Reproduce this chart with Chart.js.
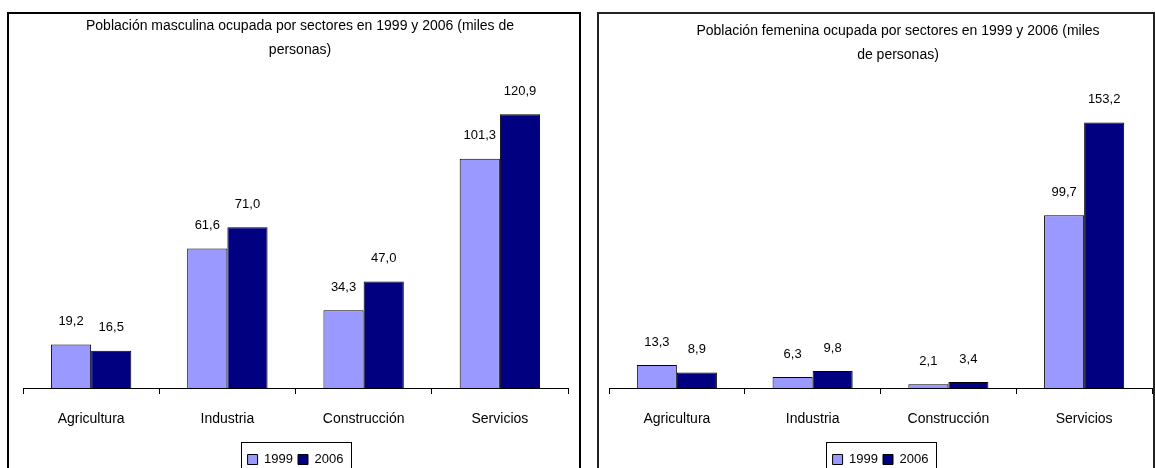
<!DOCTYPE html>
<html lang="es">
<head>
<meta charset="UTF-8">
<title>Población ocupada por sectores 1999 y 2006</title>
<script src="https://cdn.jsdelivr.net/npm/chart.js"></script>
<style>
  body { margin: 0; background: #fff; width: 1155px; height: 468px; overflow: hidden; position: relative; }
  .frame { position: absolute; top: 12px; height: 470px; border: 2px solid #000; box-sizing: border-box; }
  .holder { position: absolute; top: 14px; height: 470px; }
</style>
</head>
<body>
<div class="frame" style="left:7px; width:574px;"></div>
<div class="frame" style="left:597px; width:558px; border-color:#222;"></div>
<div class="holder" style="left:9px; width:568px;"><canvas id="hombres"></canvas></div>
<div class="holder" style="left:599px; width:588px;"><canvas id="mujeres"></canvas></div>

<script>
// datos (miles de personas)
const sectores = ['Agricultura', 'Industria', 'Construcción', 'Servicios'];
const anios = ['1999', '2006'];
const hombres1999 = [19.2, 61.6, 34.3, 101.3];
const hombres2006 = [16.5, 71.0, 47.0, 120.9];
const mujeres1999 = [13.3, 6.3, 2.1, 99.7];
const mujeres2006 = [8.9, 9.8, 3.4, 153.2];

const colores = ['#9999FF', '#000080'];

Chart.defaults.font.family = "'Liberation Sans', Arial, sans-serif";
Chart.defaults.font.size = 13;
Chart.defaults.color = '#000';

// etiquetas de valor encima de cada barra, con coma decimal
const etiquetas = {
  id: 'etiquetas',
  afterDatasetsDraw(chart) {
    const ctx = chart.ctx;
    ctx.save();
    ctx.font = "13px 'Liberation Sans', Arial, sans-serif";
    ctx.fillStyle = '#000';
    ctx.textAlign = 'center';
    ctx.textBaseline = 'middle';
    chart.data.datasets.forEach((ds, i) => {
      chart.getDatasetMeta(i).data.forEach((bar, j) => {
        ctx.fillText(ds.data[j].toFixed(1).replace('.', ','), bar.x, bar.y - 23);
      });
    });
    ctx.restore();
  }
};

// recuadro alrededor de la leyenda
const marcoLeyenda = {
  id: 'marcoLeyenda',
  afterDraw(chart) {
    const boxes = chart.legend.legendHitBoxes;
    if (!boxes || !boxes.length) return;
    const left = Math.min(...boxes.map(b => b.left)) - 7;
    const right = Math.max(...boxes.map(b => b.left + b.width)) + 7;
    const ctx = chart.ctx;
    ctx.save();
    ctx.strokeStyle = '#000';
    ctx.lineWidth = 1;
    ctx.strokeRect(Math.round(left) + 0.5, 428.5, Math.round(right - left), 40);
    ctx.restore();
  }
};

function makeChart(id, titulo, serie1999, serie2006, maxY, padLeft, padTitle, anchoDer) {
  return new Chart(document.getElementById(id), {
    type: 'bar',
    data: {
      labels: sectores,
      datasets: [
        { label: anios[0], data: serie1999, backgroundColor: colores[0], borderColor: '#000', borderWidth: 1 },
        { label: anios[1], data: serie2006, backgroundColor: colores[1], borderColor: '#000', borderWidth: 1 }
      ]
    },
    options: {
      responsive: true,
      maintainAspectRatio: false,
      animation: false,
      categoryPercentage: 0.59,
      barPercentage: 1.0,
      layout: { padding: { left: padLeft, right: 0, top: 0, bottom: 8 } },
      plugins: {
        title: {
          display: true,
          text: titulo,
          color: '#000',
          font: { size: 14, weight: 'normal', lineHeight: '24px' },
          padding: { top: padTitle, bottom: 9 }
        },
        legend: {
          position: 'bottom',
          fullSize: false,
          labels: { boxWidth: 10, boxHeight: 10, padding: 5, color: '#000', font: { size: 13 } }
        },
        tooltip: { enabled: false }
      },
      scales: {
        x: {
          grid: { drawOnChartArea: false, tickLength: 6, color: '#000' },
          border: { color: '#000', width: 1 },
          ticks: { padding: 17, color: '#000', font: { size: 14 } },
          afterFit: s => { s.height = 60; }
        },
        y: {
          position: 'right',
          min: 0,
          max: maxY,
          grid: { display: false },
          border: { display: false },
          ticks: { display: false },
          afterFit: s => { s.width = anchoDer; }
        }
      }
    },
    plugins: [etiquetas, marcoLeyenda]
  });
}

makeChart('hombres',
  ['Población masculina ocupada por sectores en 1999 y 2006 (miles de', 'personas)'],
  hombres1999, hombres2006, 140, 14, 0, 9);
makeChart('mujeres',
  ['Población femenina ocupada por sectores en 1999 y 2006 (miles', 'de personas)'],
  mujeres1999, mujeres2006, 180, 10, 5, 35);
</script>
</body>
</html>
